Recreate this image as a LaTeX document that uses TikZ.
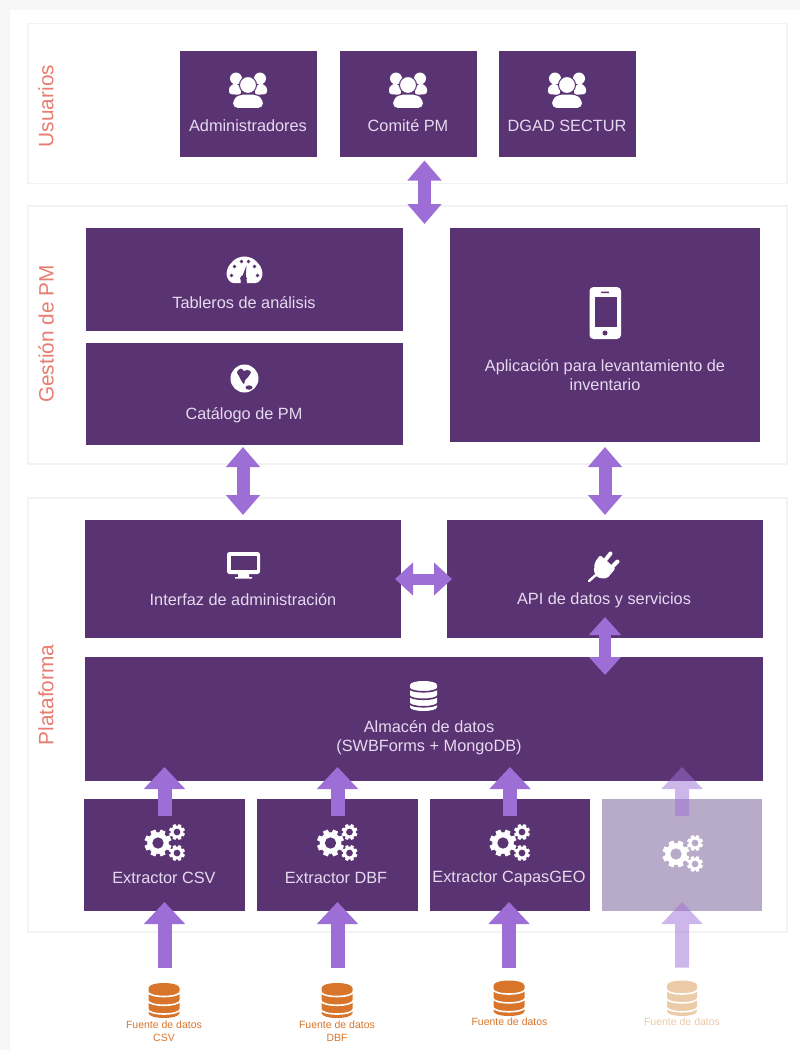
\documentclass[tikz,border=0pt]{standalone}
\usepackage{fontspec}
\setmainfont{Liberation Sans}
\usetikzlibrary{arrows.meta,calc}
\definecolor{boxc}{HTML}{5A3372}
\definecolor{fadec}{HTML}{B8ABC9}
\definecolor{arrc}{HTML}{9D6FD6}
\definecolor{txtc}{HTML}{E6DAF0}
\definecolor{ttlc}{HTML}{E87C70}
\definecolor{srcc}{HTML}{D9752B}
\definecolor{srcf}{HTML}{EBCBA8}
\definecolor{pagec}{HTML}{F7F7F7}
\definecolor{framec}{HTML}{F3F3F3}
\tikzset{
  panel/.style={draw=framec,line width=1.5pt,fill=white,inner sep=0pt,outer sep=0pt},
  boxn/.style={fill=boxc,inner sep=0pt,outer sep=0pt},
  fadebox/.style={fill=fadec,inner sep=0pt,outer sep=0pt},
  lbl/.style={text=txtc,font=\fontsize{16.3}{19}\selectfont,align=center,inner sep=0pt},
  ttl/.style={text=ttlc,font=\fontsize{20.8}{24}\selectfont,rotate=90,inner sep=0pt},
  srcl/.style={text=srcc,font=\fontsize{10.5}{12.5}\selectfont,align=center,inner sep=0pt},
  src/.style={minimum width=30pt,minimum height=35pt,inner sep=0pt,outer sep=0pt},
  biarrow/.style={draw=arrc,line width=13pt,{Triangle[length=20pt,width=33pt]}-{Triangle[length=20pt,width=33pt]}},
  uparrow/.style={draw=arrc,line width=14pt,-{Triangle[length=22pt,width=40pt]}},
  faded/.style={transparency group,opacity=.5}
}
% database icon: centre x, top y, half width, height, ry, colour, gap colour
\newcommand{\dbico}[7]{%
  \fill[#6] (#1-#3,#2+#5) -- (#1-#3,#2+#4-#5)
    .. controls (#1-#3,#2+#4+.33*#5) and (#1+#3,#2+#4+.33*#5) .. (#1+#3,#2+#4-#5)
    -- (#1+#3,#2+#5)
    .. controls (#1+#3,#2-.33*#5) and (#1-#3,#2-.33*#5) .. (#1-#3,#2+#5) -- cycle;
  \foreach \k in {0,1,2}{
    \draw[#7,line width=1.6pt] (#1-#3-1,#2+1.7*#5+\k*.25*#4)
      .. controls (#1-#3,#2+1.7*#5+\k*.25*#4+1.33*#5) and (#1+#3,#2+1.7*#5+\k*.25*#4+1.33*#5) .. (#1+#3+1,#2+1.7*#5+\k*.25*#4);
  }
}
% one gear: x, y, radius, hole colour
\newcommand{\gearone}[4]{%
  \begin{scope}[shift={(#1,#2)}]
    \foreach \a in {0,45,...,315}{
      \fill[white,rotate=\a+22.5] (-.27*#3,0) -- (-.19*#3,#3) -- (.19*#3,#3) -- (.27*#3,0) -- cycle;
    }
    \fill[white] (0,0) circle[radius=.8*#3 pt];
    \fill[#4] (0,0) circle[radius=.42*#3 pt];
  \end{scope}
}
\newcommand{\gearsico}[3]{%
  \gearone{#1}{#2}{13.5}{#3}
  \gearone{#1+19}{#2-11}{8}{#3}
  \gearone{#1+19}{#2+10}{8}{#3}
}
% people icon
\newcommand{\peopleico}[2]{%
  \begin{scope}[shift={(#1,#2)}]
    \fill[white] (-12,-11.5) circle[radius=6pt];
    \fill[white] (12,-11.5) circle[radius=6pt];
    \fill[white,rounded corners=2.5pt] (-19,4) -- (-19,-3) -- (-13,-7) -- (-7,-3) -- (-7,5) -- cycle;
    \fill[white,rounded corners=2.5pt] (19,4) -- (19,-3) -- (13,-7) -- (7,-3) -- (7,5) -- cycle;
    \filldraw[fill=white,draw=boxc,line width=1pt] (0,-5) circle[radius=8.5pt];
    \filldraw[fill=white,draw=boxc,line width=1pt,rounded corners=5pt] (-15.5,18.5) -- (-15.5,9) -- (-9,4) -- (9,4) -- (15.5,9) -- (15.5,18.5) -- cycle;
  \end{scope}
}
\begin{document}
\begin{tikzpicture}[x=1pt,y=-1pt]
\useasboundingbox (0,0) rectangle (800,1050);
\fill[pagec] (0,0) rectangle (800,1050);
\fill[white] (10,10) rectangle (800,1050);

% panels
\node[panel,minimum width=759pt,minimum height=160pt] (pU) at (407.5,103.5) {};
\node[panel,minimum width=759pt,minimum height=258pt] (pG) at (407.5,335) {};
\node[panel,minimum width=759pt,minimum height=434pt] (pP) at (407.5,715) {};
\node[ttl] (tU) at (46,106) {Usuarios};
\node[ttl] (tG) at (46,334) {Gestión de PM};
\node[ttl] (tP) at (46,695) {Plataforma};

% boxes
\node[boxn,minimum width=137pt,minimum height=106pt] (admin) at (248.5,104) {};
\node[boxn,minimum width=137pt,minimum height=106pt] (comite) at (408.5,104) {};
\node[boxn,minimum width=137pt,minimum height=106pt] (dgad) at (567.5,104) {};
\node[boxn,minimum width=317pt,minimum height=103pt] (tab) at (244.5,279.5) {};
\node[boxn,minimum width=317pt,minimum height=102pt] (cat) at (244.5,394) {};
\node[boxn,minimum width=310pt,minimum height=214pt] (app) at (605,335) {};
\node[boxn,minimum width=316pt,minimum height=118pt] (int) at (243,579) {};
\node[boxn,minimum width=316pt,minimum height=118pt] (api) at (605,579) {};
\node[boxn,minimum width=678pt,minimum height=124pt] (alm) at (424,719) {};
\node[boxn,minimum width=161pt,minimum height=112pt] (e1) at (164.5,855) {};
\node[boxn,minimum width=161pt,minimum height=112pt] (e2) at (337.5,855) {};
\node[boxn,minimum width=160pt,minimum height=112pt] (e3) at (510,855) {};
\node[fadebox,minimum width=160pt,minimum height=112pt] (e4) at (682,855) {};

% labels
\node[lbl] (l1) at (248,125.5) {Administradores};
\node[lbl] (l2) at (408,125.5) {Comité PM};
\node[lbl] (l3) at (567,125.5) {DGAD SECTUR};
\node[lbl] (l4) at (244,303) {Tableros de análisis};
\node[lbl] (l5) at (244,415) {Catálogo de PM};
\node[lbl] (l6) at (605,375) {Aplicación para levantamiento de\\inventario};
\node[lbl] (l7) at (243,600) {Interfaz de administración};
\node[lbl] (l8) at (604,600.5) {API de datos y servicios};
\node[lbl] (l9) at (429,737.5) {Almacén de datos\\(SWBForms + MongoDB)};
\node[lbl] (l10) at (164,877.5) {Extractor CSV};
\node[lbl] (l11) at (336,877.5) {Extractor DBF};
\node[lbl] (l12) at (509,878.5) {Extractor CapasGEO};

% icons
\peopleico{248}{90}
\peopleico{408}{90}
\peopleico{567}{90}
% gauge
\begin{scope}[shift={(244.5,274.5)}]
  \fill[white,rounded corners=3pt] (-14,8.5) -- (-18.5,1) -- (-16.5,-8) -- (-9,-16) -- (0,-18.5) -- (9,-16) -- (16.5,-8) -- (18.5,1) -- (14,8.5) -- cycle;
  \foreach \dx/\dy in {-13/1,-10/-8,-3/-13,4/-13,10/-8,13/1}{
    \fill[boxc] (\dx,\dy) circle[radius=1.9pt];
  }
  \fill[boxc] (-1,4) circle[radius=3.4pt];
  \fill[boxc] (-3,4) -- (1,5) -- (2,-9) -- cycle;
  \fill[boxc] (-4,9) -- (-3.5,5) -- (2,5) -- (2.5,9) -- cycle;
\end{scope}
% globe
\fill[white] (244.5,378.5) circle[radius=14pt];
\fill[boxc] plot[smooth cycle,tension=.7] coordinates {(237,372) (241,368.5) (244,371) (247,370) (251,372) (248,377) (245,380) (244,384) (241,380) (239,376)};
\fill[boxc] (249,387.5) ellipse[x radius=3.5pt,y radius=2.2pt];
% phone
\fill[white,rounded corners=4pt] (589.5,287) rectangle (621,339);
\fill[boxc] (594.5,297) rectangle (616.5,327);
\fill[boxc] (605,333) circle[radius=2.5pt];
\fill[boxc,rounded corners=.5pt] (601,291.5) rectangle (609,293);
% monitor
\fill[white,rounded corners=2.5pt] (227,552) rectangle (260,574);
\fill[boxc] (230.5,555.5) rectangle (256.5,569.5);
\fill[white] (238,574) rectangle (249,577) (235,577) rectangle (252,578.5);
% plug
\fill[white,rounded corners=2pt] (594.5,563) -- (600,555) -- (615.5,568.5) -- (607,578.5) -- (598,578) -- (594,573) -- cycle;
\draw[white,line width=2.5pt,line cap=round] (589,581) -- (597,574);
\draw[white,line width=4pt,line cap=round] (604.5,561) -- (610.5,553.5);
\draw[white,line width=4pt,line cap=round] (611,568) -- (617.5,561.5);
% store
\dbico{423.5}{681}{13.5}{30}{4}{white}{boxc}
% gears
\gearsico{158}{843}{boxc}
\gearsico{330.5}{843}{boxc}
\gearsico{503}{843}{boxc}
\gearsico{676}{854}{fadec}

% sources
\node[src] (s1) at (164.5,1000.5) {};
\node[src] (s2) at (337.5,1000.5) {};
\node[src] (s3) at (509,998.5) {};
\node[src] (s4) at (682,998.5) {};
\dbico{164}{983}{15.5}{35}{5}{srcc}{white}
\dbico{337}{983}{15.5}{35}{5}{srcc}{white}
\dbico{509}{980.5}{15.5}{35.5}{5}{srcc}{white}
\dbico{682}{980.5}{15}{35.5}{5}{srcf}{white}
\node[srcl] (fl1) at (164,1031) {Fuente de datos\\CSV};
\node[srcl] (fl2) at (337,1031) {Fuente de datos\\DBF};
\node[srcl] (fl3) at (509.5,1022) {Fuente de datos};
\node[srcl,text=srcf] (fl4) at (682,1022) {Fuente de datos};

% connectors
\draw[biarrow] ($(pU.south)+(17,-23)$) -- ($(pG.north)+(17,18)$);
\draw[biarrow] ($(cat.south)+(-1.5,2)$) -- ($(int.north)+(0,-5)$);
\draw[biarrow] ($(app.south)+(0,5)$) -- ($(api.north)+(0,-5)$);
\draw[biarrow,line width=11pt,{Triangle[length=18pt,width=32pt]}-{Triangle[length=18pt,width=32pt]}] ($(int.east)+(-6,0)$) -- ($(api.west)+(5,0)$);
\draw[biarrow,line width=12pt,{Triangle[length=18pt,width=31pt]}-{Triangle[length=18pt,width=31pt]}] ($(api.south)+(0,-21)$) -- ($(api.south |- alm.north)+(0,18)$);
\draw[uparrow] ($(e1.north)+(0,17)$) -- ($(e1.north |- alm.south)+(0,-14)$);
\draw[uparrow] ($(e2.north)+(0,17)$) -- ($(e2.north |- alm.south)+(0,-14)$);
\draw[uparrow] ($(e3.north)+(0,17)$) -- ($(e3.north |- alm.south)+(0,-14)$);
\begin{scope}[faded]
\draw[uparrow] ($(e4.north)+(0,17)$) -- ($(e4.north |- alm.south)+(0,-14)$);
\end{scope}
\draw[uparrow] ($(s1.north)+(0,-15.5)$) -- ($(e1.south)+(0,-9)$);
\draw[uparrow] ($(s2.north)+(0,-15.5)$) -- ($(e2.south)+(0,-9)$);
\draw[uparrow] ($(s3.north)+(0,-13.5)$) -- ($(e3.south)+(-1,-9)$);
\begin{scope}[faded]
\draw[uparrow] ($(s4.north)+(0,-13.5)$) -- ($(e4.south)+(0,-9)$);
\end{scope}
\end{tikzpicture}
\end{document}
